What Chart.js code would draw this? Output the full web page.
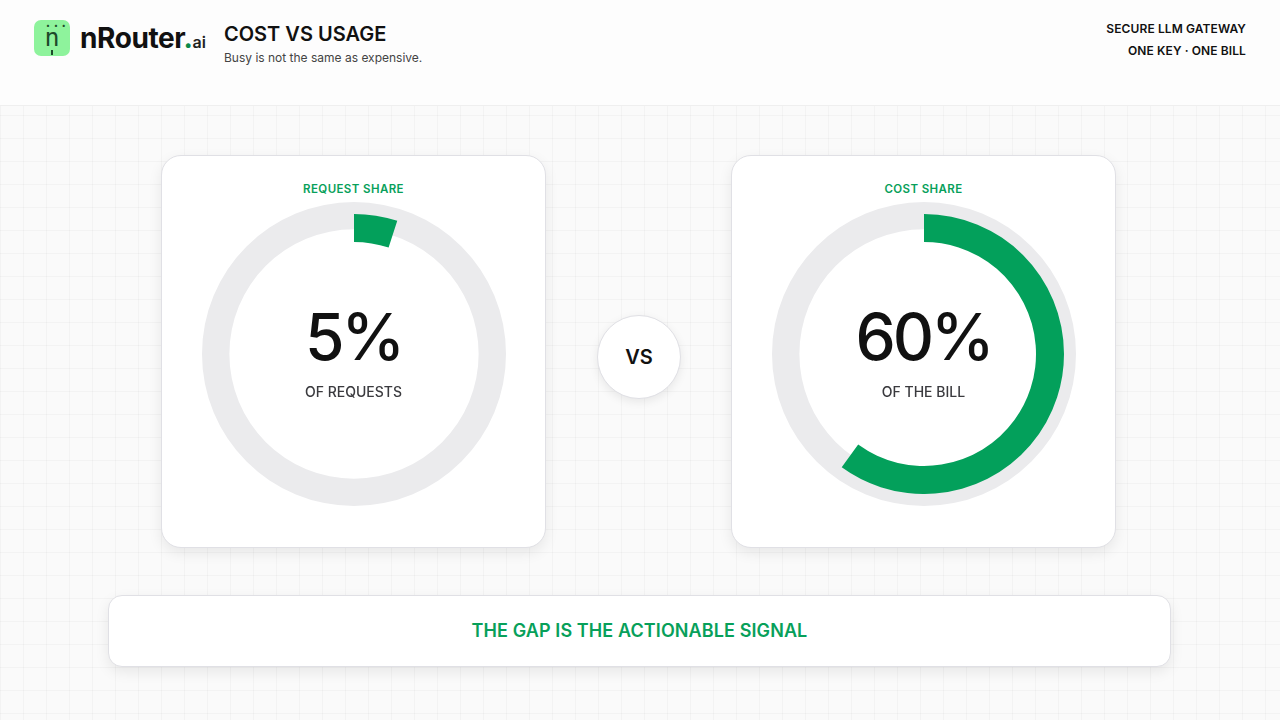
<!DOCTYPE html>
<html>
<head>
<meta charset="utf-8">
<script src="https://cdn.jsdelivr.net/npm/chart.js@4.4.1/dist/chart.umd.min.js"></script>
<style>
  html, body { margin: 0; padding: 0; }
  body {
    width: 1280px; height: 720px; position: relative; overflow: hidden;
    font-family: Inter, "Noto Sans", sans-serif;
    background-color: #fafafa;
    background-image:
      linear-gradient(rgba(0,0,0,0.028) 1px, transparent 1px),
      linear-gradient(90deg, rgba(0,0,0,0.028) 1px, transparent 1px);
    background-size: 23px 23px;
  }
  .header {
    position: absolute; left: 0; top: 0; width: 1280px; height: 105px;
    background: #fdfdfd; border-bottom: 1px solid #efefef;
  }
  .logo {
    position: absolute; left: 34px; top: 20px; width: 36px; height: 36px;
    border-radius: 7px; background: #8ef39c;
  }
  .logo .glyph {
    position: absolute; left: 9px; top: 5px; width: 18px; height: 26px;
    color: #1d4a2a; font: 500 25px "DejaVu Sans Mono", monospace; line-height: 26px; text-align: center;
  }
  .logo .tick { position: absolute; left: 17px; top: 30px; width: 1.5px; height: 5px; background: #1d4a2a; }
  .logo .dots {
    position: absolute; left: 12px; top: 1px; font-size: 7px; color: #1d4a2a; letter-spacing: 1px;
  }
  .brand {
    position: absolute; left: 80px; top: 21px; font-size: 28px; font-weight: 700; color: #111; letter-spacing: -0.4px;
  }
  .brand .dot { color: #0a8a4a; }
  .brand .ai { font-size: 16px; font-weight: 600; color: #222; letter-spacing: 0; }
  .title { position: absolute; left: 224px; top: 22px; font-size: 20px; font-weight: 600; color: #111; }
  .subtitle { position: absolute; left: 224px; top: 50px; font-size: 12px; color: #444; }
  .tag { position: absolute; right: 34px; font-size: 12px; font-weight: 600; color: #111; letter-spacing: 0.1px; }
  .card {
    position: absolute; top: 155px; width: 385px; height: 393px;
    background: #fff; border: 1px solid #e0e0e5; border-radius: 20px; box-sizing: border-box;
    box-shadow: 0 5px 14px rgba(0,0,0,0.08);
  }
  .card .label {
    position: absolute; top: 26px; width: 100%; text-align: center;
    font-size: 11.5px; font-weight: 600; color: #07a05a; letter-spacing: 0.4px;
  }
  .card canvas { position: absolute; }
  .card .big {
    position: absolute; top: 146px; width: 100%; text-align: center;
    font-size: 64px; font-weight: 500; color: #111; letter-spacing: -3px; line-height: 70px;
  }
  .card .cap {
    position: absolute; top: 227px; width: 100%; text-align: center;
    font-size: 14px; font-weight: 500; color: #3a3a3e;
  }
  .vs {
    position: absolute; left: 597px; top: 315px; width: 84px; height: 84px; border-radius: 50%;
    background: #fff; border: 1px solid #e0e0e5; box-sizing: border-box;
    box-shadow: 0 3px 10px rgba(0,0,0,0.08);
    text-align: center; line-height: 82px; font-size: 20px; font-weight: 600; color: #111;
  }
  .banner {
    position: absolute; left: 108px; top: 595px; width: 1063px; height: 72px;
    background: #fff; border: 1px solid #e0e0e5; border-radius: 14px; box-sizing: border-box;
    box-shadow: 0 5px 14px rgba(0,0,0,0.08);
    text-align: center; line-height: 70px; font-size: 18px; font-weight: 600; color: #07a05a; letter-spacing: 0.1px;
  }
</style>
</head>
<body>
<div class="header">
  <div class="logo"><div class="dots">• • •</div><div class="glyph">n</div><div class="tick"></div></div>
  <div class="brand">nRouter<span class="dot">.</span><span class="ai">ai</span></div>
  <div class="title">COST VS USAGE</div>
  <div class="subtitle">Busy is not the same as expensive.</div>
  <div class="tag" style="top:21px">SECURE LLM GATEWAY</div>
  <div class="tag" style="top:43px">ONE KEY · ONE BILL</div>
</div>

<div class="card" id="card0" style="left:161px"></div>
<div class="vs">VS</div>
<div class="card" id="card1" style="left:731px"></div>

<div class="banner">THE GAP IS THE ACTIONABLE SIGNAL</div>

<script>
const panelLabels = ['REQUEST SHARE', 'COST SHARE'];
const shareValues = [5, 60];
const bigLabels = ['5%', '60%'];
const captions = ['OF REQUESTS', 'OF THE BILL'];

const GREEN = '#03a05b';
const TRACK = '#ebebed';

function makeCanvas(card, size, cx, cy) {
  const c = document.createElement('canvas');
  c.width = size; c.height = size;
  c.style.width = size + 'px'; c.style.height = size + 'px';
  c.style.left = (cx - size / 2) + 'px';
  c.style.top = (cy - size / 2) + 'px';
  card.appendChild(c);
  return c;
}

panelLabels.forEach((label, i) => {
  const card = document.getElementById('card' + i);
  const cx = 192, cy = 198;

  // gray track ring
  const trackCanvas = makeCanvas(card, 304, cx, cy);
  new Chart(trackCanvas.getContext('2d'), {
    type: 'doughnut',
    data: { labels: ['track'], datasets: [{ data: [100], backgroundColor: [TRACK], borderWidth: 0 }] },
    options: {
      responsive: false, animation: false, cutout: '82%',
      plugins: { legend: { display: false }, tooltip: { enabled: false } }
    }
  });

  // green share arc, slightly inside the track
  const arcCanvas = makeCanvas(card, 280, cx, cy);
  new Chart(arcCanvas.getContext('2d'), {
    type: 'doughnut',
    data: {
      labels: [label, 'rest'],
      datasets: [{
        data: [shareValues[i], 100 - shareValues[i]],
        backgroundColor: [GREEN, 'rgba(0,0,0,0)'],
        borderWidth: 0
      }]
    },
    options: {
      responsive: false, animation: false, cutout: '80%',
      plugins: { legend: { display: false }, tooltip: { enabled: false } }
    }
  });

  const lab = document.createElement('div');
  lab.className = 'label'; lab.textContent = label;
  card.appendChild(lab);
  const big = document.createElement('div');
  big.className = 'big'; big.textContent = bigLabels[i];
  card.appendChild(big);
  const cap = document.createElement('div');
  cap.className = 'cap'; cap.textContent = captions[i];
  card.appendChild(cap);
});
</script>
</body>
</html>
